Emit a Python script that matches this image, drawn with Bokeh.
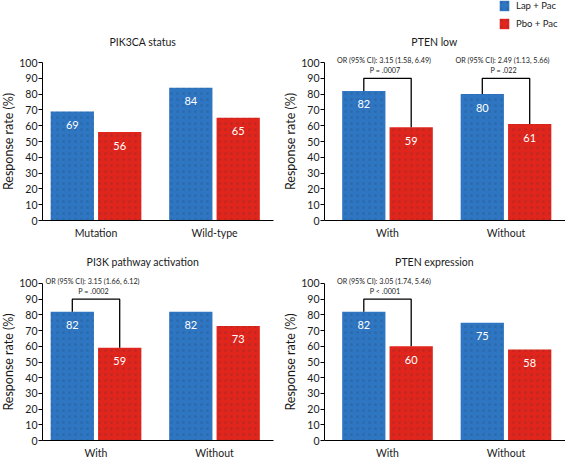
from bokeh.plotting import figure
from bokeh.layouts import gridplot
from bokeh.models import Range1d, FixedTicker, ColumnDataSource, Legend, LegendItem
from bokeh.transform import dodge
from bokeh.core.properties import value
from bokeh.embed import file_html
from bokeh.resources import INLINE

# ---------------- data ----------------
treatments = ["Lap + Pac", "Pbo + Pac"]
bar_colors = ["#2E76C2", "#E0261C"]

panel_titles = ["PIK3CA status", "PTEN low", "PI3K pathway activation", "PTEN expression"]
panel_categories = [["Mutation", "Wild-type"], ["With", "Without"],
                    ["With", "Without"], ["With", "Without"]]
lap_pac_rates = [[69, 84], [82, 80], [82, 82], [82, 75]]
pbo_pac_rates = [[56, 65], [59, 61], [59, 73], [60, 58]]
or_labels = [[None, None],
             ["OR (95% CI): 3.15 (1.58, 6.49)", "OR (95% CI): 2.49 (1.13, 5.66)"],
             ["OR (95% CI): 3.15 (1.66, 6.12)", None],
             ["OR (95% CI): 3.05 (1.74, 5.46)", None]]
p_labels = [[None, None],
            ["P = .0007", "P = .022"],
            ["P = .0002", None],
            ["P < .0001", None]]
y_ticks = list(range(0, 101, 10))
y_axis_bounds = (0, 100)
bracket_level = 90

# ---------------- style / layout ----------------
FONT = "Lato"
TXT = "#1a1a1a"
BAR_OFFSET = 0.2
BAR_WIDTH = 0.365
col_width = [282, 283]
x_ranges = [(-0.3059, 2.0738), (-0.3861, 2.0021)]
y_axis_loc = [0.0485, -0.0316]
x_axis_end = [1.9979, 2.0021]
row_height = [245, 213]
y_ranges = [(-15.82, 139.24), (-11.46, 124.20)]
title_y = [112.66, 114.0]
title_x = 0.895
or_y, p_y = 101.0, 94.8
or_dx, p_dx = -0.03, -0.02


def build_panel(k, r, c):
    cats = panel_categories[k]
    xs = [i + 0.5 for i in range(len(cats))]
    lap = lap_pac_rates[k]
    pbo = pbo_pac_rates[k]
    src = ColumnDataSource(dict(x=xs, lap=lap, pbo=pbo,
                                lap_txt=[str(v) for v in lap],
                                pbo_txt=[str(v) for v in pbo]))
    p = figure(width=col_width[c], height=row_height[r],
               x_range=Range1d(*x_ranges[c]), y_range=Range1d(*y_ranges[r]),
               output_backend="svg", toolbar_location=None,
               min_border_left=0, min_border_right=0,
               min_border_top=0, min_border_bottom=0)
    p.outline_line_color = None
    p.xgrid.visible = False
    p.ygrid.visible = False

    bar_style = dict(width=BAR_WIDTH, bottom=0, source=src, line_color=None,
                     hatch_pattern="dot", hatch_color="#1b2b3a", hatch_alpha=0.15,
                     hatch_scale=6, hatch_weight=0.6)
    blue = p.vbar(x=dodge("x", -BAR_OFFSET, range=p.x_range), top="lap",
                  fill_color=bar_colors[0], **bar_style)
    red = p.vbar(x=dodge("x", BAR_OFFSET, range=p.x_range), top="pbo",
                 fill_color=bar_colors[1], **bar_style)

    for col, txt, off in (("lap", "lap_txt", -BAR_OFFSET), ("pbo", "pbo_txt", BAR_OFFSET)):
        p.text(x=dodge("x", off, range=p.x_range), y=col, text=txt, source=src,
               text_color="white", text_align="center", text_baseline="middle",
               y_offset=13.5, text_font=value(FONT), text_font_size="11px")

    bx, by, ox, ot, px, pt = [], [], [], [], [], []
    for i, pv in enumerate(p_labels[k]):
        if pv is None:
            continue
        bx.append([xs[i] - BAR_OFFSET, xs[i] - BAR_OFFSET, xs[i] + BAR_OFFSET, xs[i] + BAR_OFFSET])
        by.append([lap[i], bracket_level, bracket_level, pbo[i]])
        ox.append(xs[i] + or_dx)
        ot.append(or_labels[k][i])
        px.append(xs[i] + p_dx)
        pt.append(pv)
    if bx:
        p.multi_line(bx, by, line_color="black", line_width=1.3)
        p.text(x=ox, y=[or_y] * len(ox), text=ot, text_align="center", text_baseline="middle",
               text_color=TXT, text_font=value(FONT), text_font_size="7.2px")
        p.text(x=px, y=[p_y] * len(px), text=pt, text_align="center", text_baseline="middle",
               text_color=TXT, text_font=value(FONT), text_font_size="7.2px")

    # panel title
    p.text(x=[title_x], y=[title_y[r]], text=[panel_titles[k]], text_align="center",
           text_baseline="middle", text_color=TXT, text_font=value(FONT),
           text_font_size="10.5px")

    xa = p.xaxis[0]
    xa.fixed_location = 0
    xa.bounds = (y_axis_loc[c], x_axis_end[c])
    xa.ticker = FixedTicker(ticks=xs)
    xa.major_label_overrides = {x: cname for x, cname in zip(xs, cats)}
    xa.major_tick_out = 0
    xa.major_tick_in = 0
    xa.minor_tick_out = 0
    xa.minor_tick_in = 0
    xa.major_label_standoff = 6
    xa.axis_line_color = "black"
    xa.major_label_text_font = FONT
    xa.major_label_text_font_size = "10.5px"
    xa.major_label_text_color = TXT

    ya = p.yaxis[0]
    ya.fixed_location = y_axis_loc[c]
    ya.ticker = FixedTicker(ticks=y_ticks)
    ya.bounds = y_axis_bounds
    ya.major_tick_out = 4
    ya.major_tick_in = 0
    ya.minor_tick_out = 0
    ya.minor_tick_in = 0
    ya.major_label_standoff = 1
    ya.axis_line_color = "black"
    ya.major_tick_line_color = "black"
    ya.major_label_text_font = FONT
    ya.major_label_text_font_size = "10.5px"
    ya.major_label_text_color = TXT
    ya.axis_label = "Response rate (%)"
    ya.axis_label_standoff = 0
    ya.axis_label_text_font = FONT
    ya.axis_label_text_font_size = "12.5px"
    ya.axis_label_text_font_style = "normal"
    ya.axis_label_text_color = TXT
    return p, blue, red


panels = []
for k in range(4):
    r, c = divmod(k, 2)
    p, blue, red = build_panel(k, r, c)
    panels.append(p)
    if k == 1:
        legend = Legend(items=[LegendItem(label=treatments[0], renderers=[blue]),
                               LegendItem(label=treatments[1], renderers=[red])],
                        location=(216, 215), glyph_width=12, glyph_height=13,
                        label_height=13, spacing=5, padding=0, margin=0,
                        border_line_color=None, background_fill_alpha=0,
                        label_text_font=FONT, label_text_font_size="9.5px",
                        label_text_color=TXT, label_standoff=6)
        p.add_layout(legend)

grid = gridplot([[panels[0], panels[1]], [panels[2], panels[3]]], toolbar_location=None)

open("out.html", "w").write(file_html(grid, INLINE))
